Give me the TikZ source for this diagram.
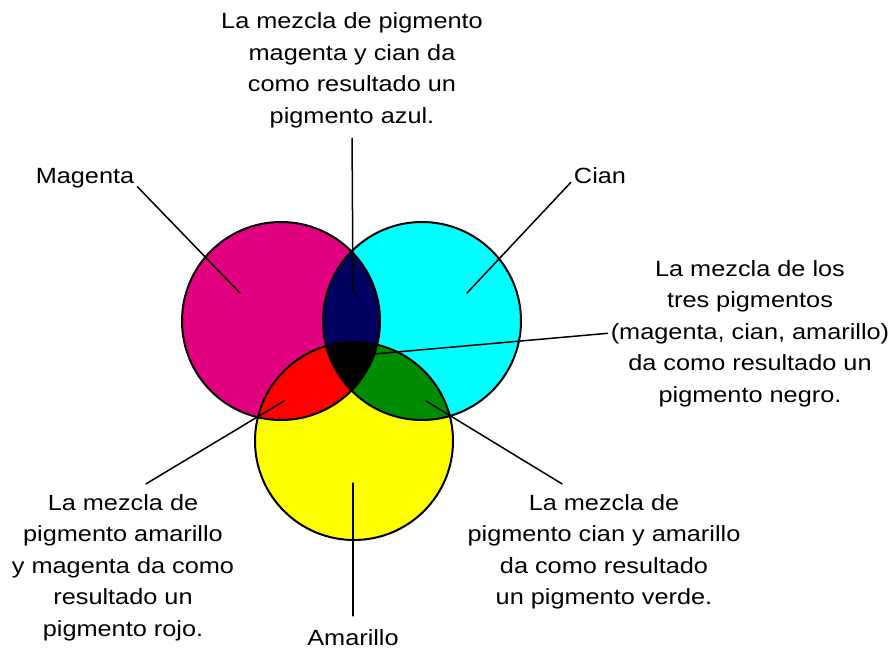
\documentclass[tikz,border=0pt]{standalone}
\usepackage{fontspec}
\setmainfont[FakeStretch=1.15]{Liberation Sans}

\definecolor{pigMagenta}{RGB}{225,0,127}
\definecolor{pigCian}{RGB}{0,255,255}
\definecolor{pigAmarillo}{RGB}{255,255,0}
\definecolor{pigAzul}{RGB}{0,0,96}
\definecolor{pigRojo}{RGB}{255,0,0}
\definecolor{pigVerde}{RGB}{0,140,0}

\begin{document}
\begin{tikzpicture}[x=1pt,y=-1pt,line cap=round]
	\tikzstyle{etiqueta}=[align=center,anchor=base,inner sep=3pt,font=\fontsize{22}{31.5}\selectfont];
	\tikzstyle{linea}=[line width=1.5pt];
	\tikzstyle{borde}=[line width=2pt,draw=black];
	\useasboundingbox (0,0) rectangle (896,650);

	% circulos
	\coordinate (cM) at (281,321);
	\coordinate (cC) at (422,321);
	\coordinate (cY) at (354,441);
	\fill[pigMagenta] (cM) circle[radius=99pt];
	\fill[pigCian] (cC) circle[radius=99pt];
	\fill[pigAmarillo] (cY) circle[radius=99pt];
	\begin{scope}
		\clip (cM) circle[radius=99pt];
		\fill[pigAzul] (cC) circle[radius=99pt];
		\fill[pigRojo] (cY) circle[radius=99pt];
		\clip (cC) circle[radius=99pt];
		\fill[black] (cY) circle[radius=99pt];
	\end{scope}
	\begin{scope}
		\clip (cC) circle[radius=99pt];
		\clip (cY) circle[radius=99pt];
		\fill[pigVerde] (cY) circle[radius=99pt];
		\clip (cM) circle[radius=99pt];
		\fill[black] (cY) circle[radius=99pt];
	\end{scope}
	\draw[borde] (cM) circle[radius=99pt] (cC) circle[radius=99pt] (cY) circle[radius=99pt];

	% textos (base = ultima linea)
	\node[etiqueta] (tMag) at (85,183) {Magenta};
	\node[etiqueta] (tCian) at (600,183) {Cian};
	\node[etiqueta] (tAzul) at (352,123.5) {La mezcla de pigmento\\magenta y cian da\\como resultado un\\pigmento azul.};
	\node[etiqueta] (tNegro) at (750,402) {La mezcla de los\\tres pigmentos\\(magenta, cian, amarillo)\\da como resultado un\\pigmento negro.};
	\node[etiqueta] (tRojo) at (123,636) {La mezcla de\\pigmento amarillo\\y magenta da como\\resultado un\\pigmento rojo.};
	\node[etiqueta] (tVerde) at (604,604.5) {La mezcla de\\pigmento cian y amarillo\\da como resultado\\un pigmento verde.};
	\node[etiqueta] (tAmar) at (353,645) {Amarillo};

	% lineas
	\coordinate (pMag) at (240,293);
	\coordinate (pCian) at (467,293);
	\coordinate (pAzul) at (353,291);
	\coordinate (pNegro) at (374,354);
	\coordinate (pRojo) at (284,401);
	\coordinate (pVerde) at (426,401);
	\coordinate (pAmar) at (353,483);
	\draw[linea] ([yshift=4pt]tMag.south east) -- (pMag);
	\draw[linea] ([yshift=4pt]tCian.south west) -- (pCian);
	\draw[linea,shorten <=7pt] (tAzul.south) -- (pAzul);
	\draw[linea] (tNegro.west) -- (pNegro);
	\draw[linea] ([xshift=23pt,yshift=7pt]tRojo.north) -- (pRojo);
	\draw[linea] ([xshift=-42pt,yshift=7pt]tVerde.north) -- (pVerde);
	\draw[linea,shorten >=10pt] (pAmar) -- (tAmar.north);
\end{tikzpicture}
\end{document}
